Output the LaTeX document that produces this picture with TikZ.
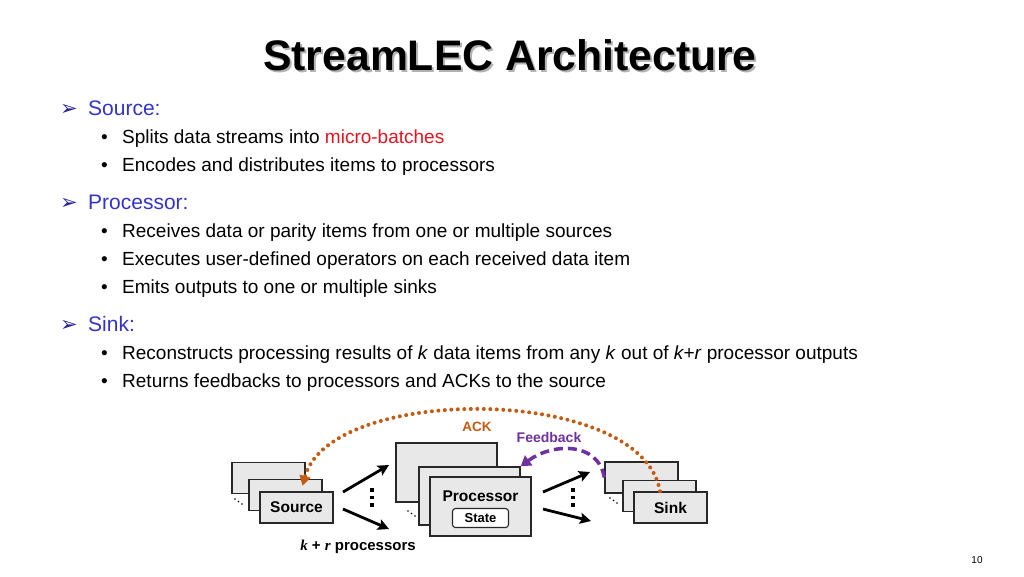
\documentclass[tikz,border=0pt]{standalone}
\usepackage{fontspec}
\setmainfont{Liberation Sans}
\newfontfamily\symfont{DejaVu Sans}
\newfontfamily\seriffont{Liberation Serif}
\usetikzlibrary{arrows.meta}

\definecolor{headblue}{RGB}{51,51,204}
\definecolor{marknavy}{RGB}{40,40,150}
\definecolor{hotred}{RGB}{230,20,30}
\definecolor{ackorange}{RGB}{197,90,17}
\definecolor{fbpurple}{RGB}{112,48,160}
\definecolor{boxgray}{RGB}{232,232,232}
\definecolor{edgegray}{RGB}{40,40,40}

\begin{document}
\begin{tikzpicture}[x=1pt,y=-1pt,
    head/.style={anchor=base west, text=headblue, inner sep=0pt, font=\fontsize{21}{25}\selectfont},
    arrowmark/.style={anchor=base west, text=marknavy, inner sep=0pt, font=\symfont\fontsize{21}{25}\selectfont},
    bulletdot/.style={anchor=base west, inner sep=0pt, font=\fontsize{19}{23}\selectfont},
    item/.style={anchor=base west, inner sep=0pt, font=\fontsize{19}{23}\selectfont},
    flow/.style={line width=2.8pt, -{Stealth[length=11pt,width=11pt,inset=2pt]}},
    ack/.style={ackorange, line width=4pt, line cap=round, dash pattern=on 0pt off 6.5pt,
      -{Triangle[length=10pt,width=11pt]}},
    feedback/.style={fbpurple, line width=3.5pt, dash pattern=on 9pt off 5pt,
      -{Triangle[length=10pt,width=12pt]}}]

  \useasboundingbox (0,0) rectangle (1024,576);

  % title with shadow
  \node[text=black!30, font=\fontsize{42.7}{48}\selectfont\bfseries] (titleshadow) at (512,57) {StreamLEC Architecture};
  \node[font=\fontsize{42.7}{48}\selectfont\bfseries] (title) at (510,55) {StreamLEC Architecture};

  % bullet list
  \node[arrowmark] (m1) at (60,115.5) {➢};
  \node[head] (h1) at (88,115.5) {Source:};
  \node[bulletdot] (d11) at (101,143.5) {•};
  \node[item] (t11) at (122,143.5) {Splits data streams into \textcolor{hotred}{micro-batches}};
  \node[bulletdot] (d12) at (101,171.5) {•};
  \node[item] (t12) at (122,171.5) {Encodes and distributes items to processors};

  \node[arrowmark] (m2) at (60,209.5) {➢};
  \node[head] (h2) at (88,209.5) {Processor:};
  \node[bulletdot] (d21) at (101,237.5) {•};
  \node[item] (t21) at (122,237.5) {Receives data or parity items from one or multiple sources};
  \node[bulletdot] (d22) at (101,265.5) {•};
  \node[item] (t22) at (122,265.5) {Executes user-defined operators on each received data item};
  \node[bulletdot] (d23) at (101,293.5) {•};
  \node[item] (t23) at (122,293.5) {Emits outputs to one or multiple sinks};

  \node[arrowmark] (m3) at (60,331.5) {➢};
  \node[head] (h3) at (88,331.5) {Sink:};
  \node[bulletdot] (d31) at (101,359.5) {•};
  \node[item] (t31) at (122,359.5) {Reconstructs processing results of \textit{k} data items from any \textit{k} out of \textit{k+r} processor outputs};
  \node[bulletdot] (d32) at (101,387.5) {•};
  \node[item] (t32) at (122,387.5) {Returns feedbacks to processors and ACKs to the source};

  % stacked boxes
  \begin{scope}[every node/.style={draw=edgegray, line width=1.4pt, fill=boxgray, inner sep=0pt,
      font=\fontsize{15.5}{18}\selectfont\bfseries}]
    \node[minimum width=73pt, minimum height=31pt] (src3) at (268.5,478) {};
    \node[minimum width=73pt, minimum height=31pt] (src2) at (285.5,495) {};
    \node[minimum width=73pt, minimum height=31pt] (src1) at (296.5,507.5) {Source};

    \node[minimum width=101pt, minimum height=59pt] (proc3) at (446.5,472.5) {};
    \node[minimum width=101pt, minimum height=58pt] (proc2) at (469.5,496) {};
    \node[minimum width=101pt, minimum height=59pt] (proc1) at (480.5,506.5) {};

    \node[minimum width=73pt, minimum height=31pt] (sink3) at (641.5,477.5) {};
    \node[minimum width=73pt, minimum height=31pt] (sink2) at (659.5,496) {};
    \node[minimum width=73pt, minimum height=31pt] (sink1) at (670.5,507.5) {Sink};
  \end{scope}

  \node[font=\fontsize{15.5}{18}\selectfont\bfseries] (proclabel) at (480.5,496) {Processor};
  \node[draw=edgegray, line width=1.1pt, fill=white, rounded corners=3pt, minimum width=56pt,
    minimum height=19pt, inner sep=0pt, font=\fontsize{13}{15}\selectfont\bfseries] (state) at (480.5,518) {State};

  % small ellipses behind the stacks
  \foreach \xx/\yy in {235/499,408/511,610/498}
    \foreach \i in {0,1,2}
      \fill (\xx+\i*3.5,\yy+\i*2.5) circle (0.8pt);
  \foreach \xx in {372,573}
    \foreach \yy in {490,497.5,505}
      \fill (\xx-1.8,\yy-1.8) rectangle (\xx+1.8,\yy+1.8);

  % data flow
  \coordinate (srcup) at (343,492);
  \coordinate (srcdown) at (343,509);
  \coordinate (procup) at (389,465);
  \coordinate (procdown) at (389,529);
  \coordinate (outup) at (543,492);
  \coordinate (outdown) at (543,509);
  \coordinate (sinkup) at (590,472);
  \coordinate (sinkdown) at (591,521);
  \draw[flow] (srcup) -- (procup);
  \draw[flow] (srcdown) -- (procdown);
  \draw[flow] (outup) -- (sinkup);
  \draw[flow] (outdown) -- (sinkdown);

  % ACK and feedback
  \draw[ack] ([xshift=-10.5pt]sink1.north) .. controls (642,384) and (330,384) .. ([xshift=17pt,yshift=-7pt]src2.north);
  \draw[feedback] (sink3.west) .. controls (598,441) and (552,443) .. (proc2.north east);
  \node[text=ackorange, font=\fontsize{13.5}{15}\selectfont\bfseries] (acklabel) at (477,427) {ACK};
  \node[text=fbpurple, font=\fontsize{14}{16}\selectfont\bfseries] (fblabel) at (549,437) {Feedback};

  \node[font=\fontsize{15}{18}\selectfont\bfseries] (kr) at (358,547) {{\seriffont\itshape k} + {\seriffont\itshape r} processors};

  \node[font=\fontsize{10}{12}\selectfont] (page) at (977,560) {10};
\end{tikzpicture}
\end{document}
